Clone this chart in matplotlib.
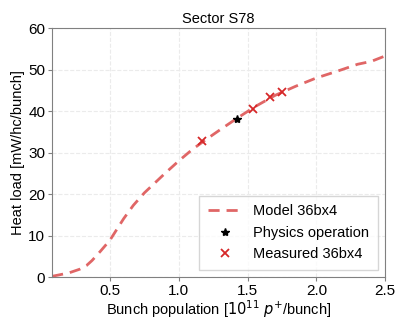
import matplotlib
matplotlib.use("Agg")
import matplotlib.pyplot as plt

# model curve 36bx4
model_x = [0.08, 0.2, 0.28, 0.33, 0.37, 0.43, 0.5, 0.6, 0.67, 0.75, 0.9, 1.0, 1.1, 1.2,
           1.3, 1.42, 1.55, 1.7, 1.85, 2.0, 2.15, 2.3, 2.4, 2.5]
model_y = [0.2, 1.0, 1.9, 2.8, 4.0, 6.2, 8.9, 14.1, 17.3, 20.3, 25.0, 28.0, 30.8, 33.2,
           35.5, 38.2, 41.0, 43.8, 46.0, 48.0, 49.6, 51.3, 52.0, 53.3]

# physics operation
phys_x = [1.42]
phys_y = [38.2]

# measured 36bx4
meas_x = [1.17, 1.54, 1.66, 1.75]
meas_y = [32.7, 40.4, 43.5, 44.6]

plt.rcParams["font.family"] = ["Liberation Sans", "DejaVu Sans"]
fig = plt.figure(figsize=(3.95, 3.2), dpi=100)
ax = fig.add_axes([0.132, 0.134, 0.843, 0.778])

ax.plot(model_x, model_y, "--", color="#e06666", lw=2, dashes=(4, 2.5), label="Model 36bx4")
ax.plot(phys_x, phys_y, "*", color="black", ms=6, ls="none", label="Physics operation")
ax.plot(meas_x, meas_y, "x", color="#d62728", ms=6, mew=1.3, ls="none", label="Measured 36bx4")

ax.set_xlim(0.08, 2.5)
ax.set_ylim(0, 60)
ax.set_xticks([0.5, 1.0, 1.5, 2.0, 2.5])
ax.set_yticks([0, 10, 20, 30, 40, 50, 60])
ax.tick_params(labelsize=11, length=3, pad=2, color="#808080")
ax.grid(True, color="#ebebeb", ls="--", lw=0.8)
for s in ax.spines.values():
    s.set_color("#808080")
ax.set_title("Sector S78", fontsize=10.5, pad=4)
ax.set_xlabel("Bunch population [$10^{11}$ $p^{+}$/bunch]", fontsize=10.5, labelpad=0)
ax.set_ylabel("Heat load [mW/hc/bunch]", fontsize=10.5, labelpad=2)
ax.legend(loc="lower right", fontsize=10.5, handlelength=2.3, borderpad=0.6,
          labelspacing=0.5, edgecolor="#cccccc", fancybox=False)

fig.savefig("out.png", dpi=100)
